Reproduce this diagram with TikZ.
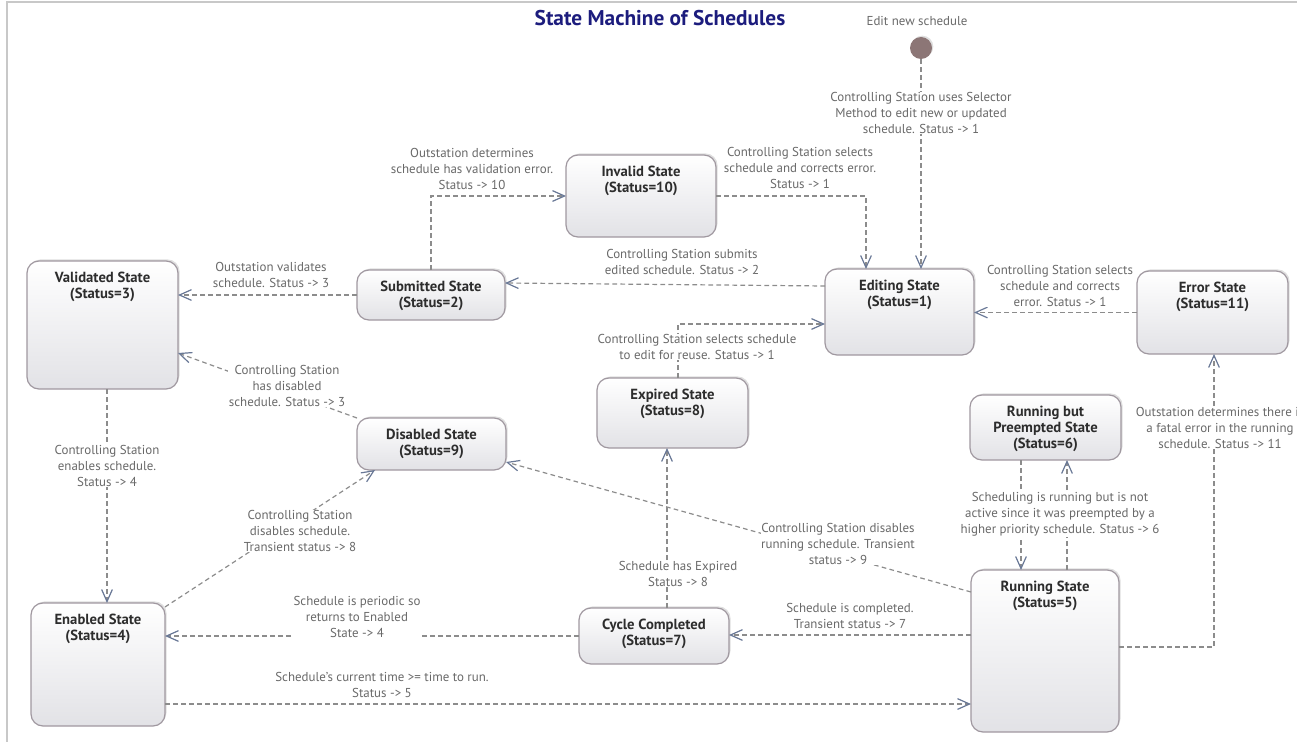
\documentclass[tikz,border=0pt]{standalone}
\usepackage{fontspec}
\setmainfont{PT Sans}
\usepackage{tikz}
\usetikzlibrary{arrows.meta,calc,shadows}

\definecolor{boxline}{RGB}{160,152,160}
\definecolor{boxshade}{RGB}{226,226,230}
\definecolor{namecol}{RGB}{45,45,45}
\definecolor{notecol}{RGB}{105,105,105}
\definecolor{transcol}{RGB}{140,140,140}
\definecolor{tipcol}{RGB}{105,120,150}
\definecolor{startcol}{RGB}{140,118,118}
\definecolor{titlecol}{RGB}{28,28,125}
\definecolor{framecol}{RGB}{200,200,200}

\tikzset{
  state/.style={draw=boxline, line width=0.9pt, rounded corners=9pt, top color=white, bottom color=boxshade,
    inner sep=0pt, outer sep=0pt, drop shadow={shadow xshift=1.2pt, shadow yshift=1.2pt, opacity=0.25}},
  statename/.style={font=\fontsize{11}{12}\selectfont\bfseries, text=namecol, align=center, inner sep=0pt, anchor=north},
  translabel/.style={font=\fontsize{9.7}{12}\selectfont, text=notecol, align=center, fill=white, inner sep=0.5pt},
  trans/.style={draw=transcol, line width=0.9pt, dash pattern=on 3.5pt off 2.5pt,
    -{Straight Barb[length=9pt,width=8pt,color=tipcol]}},
  startdot/.style={circle, fill=startcol, minimum size=16.5pt, inner sep=0pt,
    drop shadow={shadow xshift=1pt, shadow yshift=1pt, opacity=0.25}},
  frame/.style={draw=framecol, line width=1pt}
}

\begin{document}
\begin{tikzpicture}[x=0.75pt,y=0.75pt,yscale=-1,xscale=1]
    \useasboundingbox (0,0) rectangle (1297,742);
    %Frame
    \draw [frame] (7,742) -- (7,2) -- (1297,2);

    % Title
    \node [font=\fontsize{16}{18}\selectfont\bfseries, text=titlecol] (title) at (660,18) {State Machine of Schedules};
    % Start
    \node [translabel] (startlabel) at (917,21) {Edit new schedule};
    \node [startdot] (start) at (921,48) {};

    % State Nodes
    \node [state, minimum width=113.25pt, minimum height=96pt] (validated) at (102.5,325) {};
    \node [state, minimum width=111pt, minimum height=37.5pt] (submitted) at (431,295) {};
    \node [state, minimum width=112.5pt, minimum height=61.5pt] (invalid) at (641,196) {};
    \node [state, minimum width=111.75pt, minimum height=64.5pt] (editing) at (899.5,312) {};
    \node [state, minimum width=113.25pt, minimum height=62.25pt] (error) at (1212.5,312.5) {};
    \node [state, minimum width=113.25pt, minimum height=52.5pt] (expired) at (672.5,413) {};
    \node [state, minimum width=111.75pt, minimum height=39pt] (disabled) at (431.5,444) {};
    \node [state, minimum width=113.25pt, minimum height=48.75pt] (preempted) at (1045.5,427.5) {};
    \node [state, minimum width=100.5pt, minimum height=92.25pt] (enabled) at (98,664.5) {};
    \node [state, minimum width=112.5pt, minimum height=42pt] (cycle) at (654,636) {};
    \node [state, minimum width=111pt, minimum height=121.5pt] (running) at (1045,651) {};

    % Transitions
    \draw [trans] (start) -- (start |- editing.north);
    \draw [trans] (invalid.east) -| ($(editing.north)+(-33.5,0)$);
    \draw [trans] (submitted.north) |- (invalid.west);
    \draw [trans] ($(editing.north west)+(0,17)$) -- ($(submitted.north east)+(0,13)$);
    \draw [trans] (submitted.west) -- (submitted.west -| validated.east);
    \draw [trans] (error.west) -- (error.west -| editing.east);
    \draw [trans] ($(expired.north)+(5.5,0)$) |- ($(editing.north west)+(0,55)$);
    \draw [trans] (disabled.north west) -- ($(validated.north east)+(0,92)$);
    \draw [trans] ($(validated.south)+(4.5,0)$) -- ($(enabled.north)+(9,0)$);
    \draw [trans] ($(enabled.north east)+(0,4)$) -- ($(disabled.south west)+(18,0)$);
    \draw [trans] ($(running.north west)+(0,22)$) -- ($(disabled.south east)+(0,-8)$);
    \draw [trans] ($(cycle.north)+(13,0)$) -- ($(expired.south)+(-5.5,0)$);
    \draw [trans] (cycle.west) -- (cycle.west -| enabled.east);
    \draw [trans] ($(enabled.south east)+(0,-22)$) coordinate (e5) -- (e5 -| running.west);
    \draw [trans] ($(running.north west)+(0,65)$) coordinate (r7) -- (r7 -| cycle.east);
    \draw [trans] ($(preempted.south)+(-24.5,0)$) coordinate (p5) -- (p5 |- running.north);
    \draw [trans] ($(running.north)+(22,0)$) coordinate (r6) -- (r6 |- preempted.south);
    \draw [trans] ($(running.north east)+(0,77)$) -| ($(error.south)+(1.5,0)$);

    % Text Node
    \node [translabel] (l-start) at (921,113) {Controlling Station uses Selector\\Method to edit new or updated\\schedule. Status -> 1};
    \node [translabel] (l-invalid) at (472,169) {Outstation determines\\schedule has validation error.\\Status -> 10};
    \node [translabel] (l-fix) at (800,168) {Controlling Station selects\\schedule and corrects error.\\Status -> 1};
    \node [translabel] (l-submit) at (682,262) {Controlling Station submits\\edited schedule. Status -> 2};
    \node [translabel] (l-validate) at (271,275) {Outstation validates\\schedule. Status -> 3};
    \node [translabel] (l-errfix) at (1060,286) {Controlling Station selects\\schedule and corrects\\error. Status -> 1};
    \node [translabel] (l-reuse) at (697,347) {Controlling Station selects schedule\\to edit for reuse. Status -> 1};
    \node [translabel] (l-revalid) at (287,386) {Controlling Station\\has disabled\\schedule. Status -> 3};
    \node [translabel] (l-enable) at (107,466) {Controlling Station\\enables schedule.\\Status -> 4};
    \node [translabel] (l-fatal) at (1220,428) {Outstation determines there is\\a fatal error in the running\\schedule. Status -> 11};
    \node [translabel] (l-preempt) at (1060,514) {Scheduling is running but is not\\active since it was preempted by a\\higher priority schedule. Status -> 6};
    \node [translabel] (l-disable) at (300,531) {Controlling Station\\disables schedule.\\Transient status -> 8};
    \node [translabel] (l-rundisable) at (838,544) {Controlling Station disables\\running schedule. Transient\\status -> 9};
    \node [translabel] (l-expire) at (678,574) {Schedule has Expired\\Status -> 8};
    \node [translabel] (l-periodic) at (357,617) {Schedule is periodic so\\returns to Enabled\\State -> 4};
    \node [translabel] (l-complete) at (850,616) {Schedule is completed.\\Transient status -> 7};
    \node [translabel] (l-run) at (382,685) {Schedule's current time >= time to run.\\Status -> 5};

    % State Names
    \node [statename] (validated-t) at (102.5,271.5) {Validated State\\(Status=3)};
    \node [statename] (submitted-t) at (431,280.5) {Submitted State\\(Status=2)};
    \node [statename] (invalid-t) at (641,165.5) {Invalid State\\(Status=10)};
    \node [statename] (editing-t) at (899.5,279.5) {Editing State\\(Status=1)};
    \node [statename] (error-t) at (1212.5,281.5) {Error State\\(Status=11)};
    \node [statename] (expired-t) at (672.5,388.5) {Expired State\\(Status=8)};
    \node [statename] (disabled-t) at (431.5,428.5) {Disabled State\\(Status=9)};
    \node [statename] (preempted-t) at (1045.5,405.5) {Running but\\Preempted State\\(Status=6)};
    \node [statename] (enabled-t) at (98,613.5) {Enabled State\\(Status=4)};
    \node [statename] (cycle-t) at (654,618.5) {Cycle Completed\\(Status=7)};
    \node [statename] (running-t) at (1045,580.5) {Running State\\(Status=5)};
\end{tikzpicture}
\end{document}
